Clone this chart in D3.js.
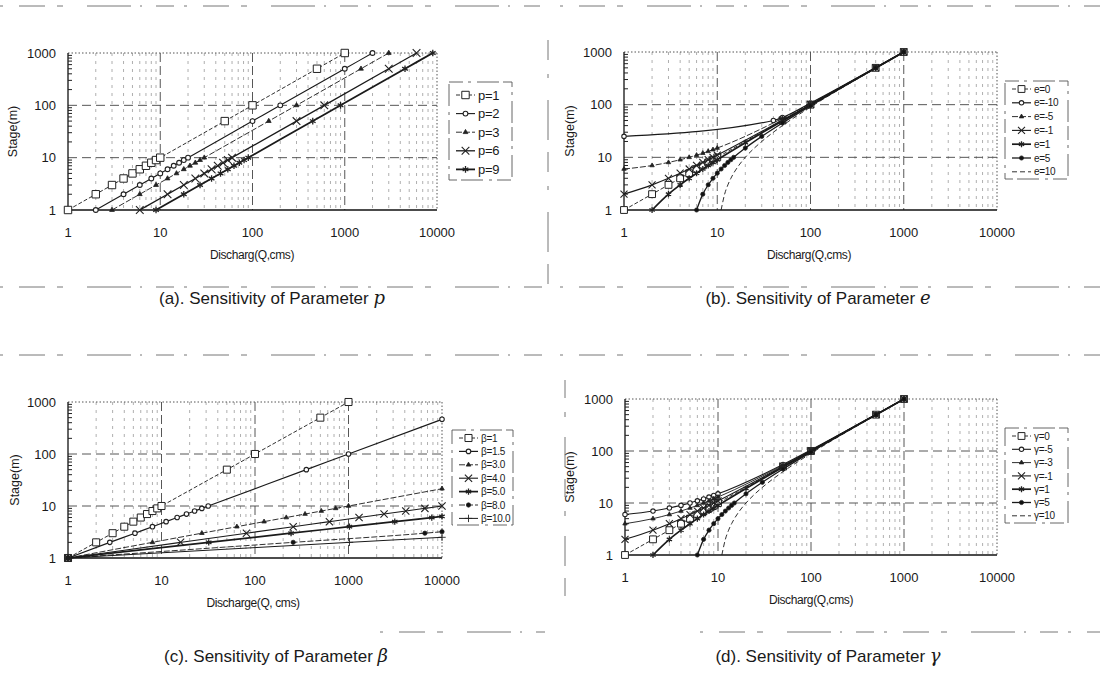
<!DOCTYPE html>
<html>
<head>
<meta charset="utf-8">
<script src="https://cdn.jsdelivr.net/npm/d3@7"></script>
<style>
body { margin: 0; background: #fff; }
text { font-family: "Liberation Sans", Arial, sans-serif; fill: #1a1a1a; }
</style>
</head>
<body>
<svg id="fig" width="1100" height="687"></svg>
<script>
// ---- data ----
var qTicks = [1, 10, 100, 1000, 10000];
var hTicks = [1, 10, 100, 1000];

// (a) parameter p
var pLabels = ["p=1", "p=2", "p=3", "p=6", "p=9"];
var pStage  = [1, 2, 3, 4, 5, 6, 7, 8, 9, 10, 50, 100, 500, 1000];
var pQ1 = [1, 2, 3, 4, 5, 6, 7, 8, 9, 10, 50, 100, 500, 1000];
var pQ2 = [2, 4, 6, 8, 10, 12, 14, 16, 18, 20, 100, 200, 1000, 2000];
var pQ3 = [3, 6, 9, 12, 15, 18, 21, 24, 27, 30, 150, 300, 1500, 3000];
var pQ6 = [6, 12, 18, 24, 30, 36, 42, 48, 54, 60, 300, 600, 3000, 6000];
var pQ9 = [9, 18, 27, 36, 45, 54, 63, 72, 81, 90, 450, 900, 4500, 9000];

// (b) parameter e
var eLabels = ["e=0", "e=-10", "e=-5", "e=-1", "e=1", "e=5", "e=10"];
var eQ0  = [1, 2, 3, 4, 5, 6, 7, 8, 9, 10, 50, 100, 500, 1000];
var eH0  = [1, 2, 3, 4, 5, 6, 7, 8, 9, 10, 50, 100, 500, 1000];
var eQm10 = [1, 40, 50, 100, 500, 1000];
var eHm10 = [25, 50, 57, 107, 507, 1010];
var eHm5 = [6, 7, 8, 9, 10, 11, 12, 13, 14, 15, 55, 105, 505, 1005];
var eHm1 = [2, 3, 4, 5, 6, 7, 8, 9, 10, 11, 51, 101, 501, 1001];
var eQ1  = [2, 3, 4, 5, 6, 7, 8, 9, 10, 20, 50, 100, 500, 1000];
var eH1  = [1, 2, 3, 4, 5, 6, 7, 8, 9, 19, 49, 99, 499, 999];
var eQ5  = [6, 7, 8, 9, 10, 11, 12, 13, 14, 15, 20, 30, 50, 100, 500, 1000];
var eH5  = [1, 2, 3, 4, 5, 6, 7, 8, 9, 10, 15, 25, 45, 95, 495, 995];
var eQ10 = [11, 12, 13, 14, 15, 17, 20, 25, 30, 40, 50, 100, 500, 1000];
var eH10 = [1, 2, 3, 4, 5, 7, 10, 15, 20, 30, 40, 90, 490, 990];

// (c) parameter beta
var bLabels = ["\u03b2=1", "\u03b2=1.5", "\u03b2=3.0", "\u03b2=4.0", "\u03b2=5.0", "\u03b2=8.0", "\u03b2=10.0"];
var bQ1  = [1, 2, 3, 4, 5, 6, 7, 8, 9, 10, 50, 100, 500, 1000];
var bH1  = [1, 2, 3, 4, 5, 6, 7, 8, 9, 10, 50, 100, 500, 1000];
var bQ15 = [1, 2.8, 5.2, 8, 11.2, 14.7, 18.5, 22.6, 27, 31.6, 354, 1000, 10000];
var bH15 = [1, 2, 3, 4, 5, 6, 7, 8, 9, 10, 50, 100, 464];
var bQ3  = [1, 8, 27, 64, 125, 216, 343, 512, 729, 1000, 10000];
var bH3  = [1, 2, 3, 4, 5, 6, 7, 8, 9, 10, 21.5];
var bQ4  = [1, 16, 81, 256, 625, 1296, 2401, 4096, 6561, 10000];
var bH4  = [1, 2, 3, 4, 5, 6, 7, 8, 9, 10];
var bQ5  = [1, 32, 243, 1024, 3125, 7776, 10000];
var bH5  = [1, 2, 3, 4, 5, 6, 6.3];
var bQ8  = [1, 256, 6561, 10000];
var bH8  = [1, 2, 3, 3.2];
var bQ10 = [1, 1024, 10000];
var bH10 = [1, 2, 2.5];

// (d) parameter gamma
var gLabels = ["\u03b3=0", "\u03b3=-5", "\u03b3=-3", "\u03b3=-1", "\u03b3=1", "\u03b3=5", "\u03b3=10"];
var gHm5 = [6, 7, 8, 9, 10, 11, 12, 13, 14, 15, 55, 105, 505, 1005];
var gHm3 = [4, 5, 6, 7, 8, 9, 10, 11, 12, 13, 53, 103, 503, 1003];

function zip(qs, hs) { return qs.map(function(q, i) { return [q, hs[i]]; }); }

// ---- marker / line styles ----
var styles = {
  square:   { sym: d3.symbolSquare2,  size: 70, fill: "#fff", sw: 1 },
  circle:   { sym: d3.symbolCircle,   size: 18, fill: "#fff", sw: 1.1 },
  triangle: { sym: d3.symbolTriangle, size: 10, fill: "#222", sw: 0.8 },
  times:    { sym: d3.symbolTimes,    size: 40, fill: "none", sw: 1.1 },
  aster:    { sym: d3.symbolAsterisk, size: 30, fill: "none", sw: 1.3 },
  dot:      { sym: d3.symbolCircle,   size: 16, fill: "#111", sw: 0.8 },
  plus:     { sym: d3.symbolPlus,     size: 22, fill: "none", sw: 0.9 }
};

var svg = d3.select("#fig");

function drawMarker(g, type, px, py, scale) {
  var s = styles[type];
  g.append("path")
    .attr("d", d3.symbol().type(s.sym).size(s.size * (scale || 1))())
    .attr("transform", "translate(" + px + "," + py + ")")
    .attr("fill", s.fill)
    .attr("stroke", "#222")
    .attr("stroke-width", s.sw);
}

function drawPanel(cfg) {
  var x = d3.scaleLog().domain([1, 10000]).range([cfg.x0, cfg.x1]);
  var y = d3.scaleLog().domain([1, 1000]).range([cfg.yb, cfg.yt]);
  var g = svg.append("g");

  // minor vertical grid
  var minorQ = x.ticks().filter(function(d) { return qTicks.indexOf(d) < 0; });
  g.selectAll(".minv").data(minorQ).enter().append("line")
    .attr("x1", function(d) { return x(d); }).attr("x2", function(d) { return x(d); })
    .attr("y1", cfg.yt).attr("y2", cfg.yb)
    .attr("stroke", "#9a9a9a").attr("stroke-width", 0.8)
    .attr("stroke-dasharray", "3,5");

  // major grid
  g.selectAll(".majv").data(qTicks.slice(1, 4)).enter().append("line")
    .attr("x1", function(d) { return x(d); }).attr("x2", function(d) { return x(d); })
    .attr("y1", cfg.yt).attr("y2", cfg.yb)
    .attr("stroke", "#444").attr("stroke-width", 0.9)
    .attr("stroke-dasharray", "9,4");
  g.selectAll(".majh").data(hTicks.slice(1, 3)).enter().append("line")
    .attr("x1", cfg.x0).attr("x2", cfg.x1)
    .attr("y1", function(d) { return y(d); }).attr("y2", function(d) { return y(d); })
    .attr("stroke", "#444").attr("stroke-width", 0.9)
    .attr("stroke-dasharray", "9,5");

  // frame: dotted top/right, solid left/bottom
  g.append("line").attr("x1", cfg.x0).attr("x2", cfg.x1).attr("y1", cfg.yt).attr("y2", cfg.yt)
    .attr("stroke", "#555").attr("stroke-dasharray", "1.5,2");
  g.append("line").attr("x1", cfg.x1).attr("x2", cfg.x1).attr("y1", cfg.yt).attr("y2", cfg.yb)
    .attr("stroke", "#555").attr("stroke-dasharray", "1.5,2");
  g.append("line").attr("x1", cfg.x0).attr("x2", cfg.x0).attr("y1", cfg.yt).attr("y2", cfg.yb)
    .attr("stroke", "#111").attr("stroke-width", 1.3);
  g.append("line").attr("x1", cfg.x0).attr("x2", cfg.x1).attr("y1", cfg.yb).attr("y2", cfg.yb)
    .attr("stroke", "#111").attr("stroke-width", 1.3);

  // inner minor ticks on the stage axis
  var minorH = y.ticks().filter(function(d) { return hTicks.indexOf(d) < 0; });
  g.selectAll(".ht").data(minorH).enter().append("line")
    .attr("x1", cfg.x0).attr("x2", cfg.x0 + 4)
    .attr("y1", function(d) { return y(d); }).attr("y2", function(d) { return y(d); })
    .attr("stroke", "#222");

  // tick labels
  g.selectAll(".xl").data(qTicks).enter().append("text")
    .attr("x", function(d) { return x(d); }).attr("y", cfg.yb + 27)
    .attr("text-anchor", "middle").style("font-size", "13px")
    .text(function(d) { return d; });
  g.selectAll(".yl").data(hTicks).enter().append("text")
    .attr("x", cfg.x0 - 12).attr("y", function(d) { return y(d) + 4.5; })
    .attr("text-anchor", "end").style("font-size", "13px")
    .text(function(d) { return d; });

  // axis titles
  g.append("text").attr("x", cfg.xtX).attr("y", cfg.yb + 49)
    .attr("text-anchor", "middle").style("font-size", "12px").style("letter-spacing", "-0.4px")
    .text(cfg.xTitle);
  g.append("text").attr("transform", "translate(" + cfg.ytX + "," + ((cfg.yt + cfg.yb) / 2) + ") rotate(-90)")
    .attr("text-anchor", "middle").style("font-size", "12.5px")
    .text("Stage(m)");

  // series
  var line = d3.line()
    .x(function(d) { return x(d[0]); })
    .y(function(d) { return y(d[1]); })
    .curve(d3.curveMonotoneX);
  cfg.series.forEach(function(s) {
    g.append("path").attr("d", line(s.pts))
      .attr("fill", "none").attr("stroke", "#1a1a1a")
      .attr("stroke-width", s.w).attr("stroke-dasharray", s.dash || null);
    if (s.marker) {
      s.pts.forEach(function(p) {
        drawMarker(g, s.marker, x(p[0]), y(p[1]), cfg.ms);
      });
    }
  });

  // legend
  var lg = svg.append("g");
  lg.append("rect").attr("x", cfg.lx).attr("y", cfg.ly).attr("width", cfg.lw).attr("height", cfg.lh)
    .attr("fill", "none").attr("stroke", "#555").attr("stroke-width", 0.9)
    .attr("stroke-dasharray", "14,5,3,6,22,4");
  cfg.series.forEach(function(s, i) {
    var yy = cfg.ly0 + i * cfg.lstep;
    lg.append("line").attr("x1", cfg.lx + 7).attr("x2", cfg.lx + 26).attr("y1", yy).attr("y2", yy)
      .attr("stroke", "#1a1a1a").attr("stroke-width", s.w).attr("stroke-dasharray", s.dash || null);
    if (s.marker) drawMarker(lg, s.marker, cfg.lx + 16.5, yy, cfg.ms);
    lg.append("text").attr("x", cfg.lx + 29).attr("y", yy + cfg.lfs * 0.36)
      .style("font-size", cfg.lfs + "px").style("letter-spacing", "-0.3px")
      .text(s.label);
  });

  // caption
  var cap = svg.append("text").attr("x", cfg.capX).attr("y", cfg.capY)
    .attr("text-anchor", "middle").style("font-size", "17px");
  cap.append("tspan").text(cfg.capText);
  cap.append("tspan").style("font-family", "'DejaVu Serif', 'Liberation Serif', serif")
    .style("font-style", "italic").style("font-size", "18px").text(cfg.capSym);
}

// ---- panels ----
drawPanel({
  x0: 68, x1: 437, yt: 53, yb: 210, ytX: 17, xtX: 252, xTitle: "Discharg(Q,cms)", ms: 1,
  lx: 449, ly: 82, lw: 63, lh: 98, ly0: 95, lstep: 18.6, lfs: 13,
  capX: 272, capY: 304, capText: "(a). Sensitivity of Parameter ", capSym: "p",
  series: [
    { label: pLabels[0], pts: zip(pQ1, pStage), marker: "square", w: 0.9, dash: "4,2" },
    { label: pLabels[1], pts: zip(pQ2, pStage), marker: "circle", w: 1.1 },
    { label: pLabels[2], pts: zip(pQ3, pStage), marker: "triangle", w: 0.9, dash: "6,2" },
    { label: pLabels[3], pts: zip(pQ6, pStage), marker: "times", w: 1.3 },
    { label: pLabels[4], pts: zip(pQ9, pStage), marker: "aster", w: 1.8 }
  ]
});

drawPanel({
  x0: 624, x1: 997, yt: 52, yb: 210, ytX: 574, xtX: 809, xTitle: "Discharg(Q,cms)", ms: 0.85,
  lx: 1005, ly: 81, lw: 63, lh: 98, ly0: 89, lstep: 13.8, lfs: 10,
  capX: 818, capY: 304, capText: "(b). Sensitivity of Parameter ", capSym: "e",
  series: [
    { label: eLabels[0], pts: zip(eQ0, eH0), marker: "square", w: 0.9, dash: "4,2" },
    { label: eLabels[1], pts: zip(eQm10, eHm10), marker: "circle", w: 1.2 },
    { label: eLabels[2], pts: zip(eQ0, eHm5), marker: "triangle", w: 0.9, dash: "6,2" },
    { label: eLabels[3], pts: zip(eQ0, eHm1), marker: "times", w: 1.1 },
    { label: eLabels[4], pts: zip(eQ1, eH1), marker: "aster", w: 1.7 },
    { label: eLabels[5], pts: zip(eQ5, eH5), marker: "dot", w: 1.3 },
    { label: eLabels[6], pts: zip(eQ10, eH10), marker: null, w: 0.9, dash: "5,3" }
  ]
});

drawPanel({
  x0: 68, x1: 442, yt: 402, yb: 558, ytX: 19, xtX: 253, xTitle: "Discharge(Q, cms)", ms: 0.9,
  lx: 452, ly: 430, lw: 61, lh: 95, ly0: 438, lstep: 13.4, lfs: 10,
  capX: 276, capY: 662, capText: "(c). Sensitivity of Parameter ", capSym: "\u03b2",
  series: [
    { label: bLabels[0], pts: zip(bQ1, bH1), marker: "square", w: 0.9, dash: "4,2" },
    { label: bLabels[1], pts: zip(bQ15, bH15), marker: "circle", w: 1.2 },
    { label: bLabels[2], pts: zip(bQ3, bH3), marker: "triangle", w: 0.9, dash: "6,2" },
    { label: bLabels[3], pts: zip(bQ4, bH4), marker: "times", w: 1.1 },
    { label: bLabels[4], pts: zip(bQ5, bH5), marker: "aster", w: 1.7 },
    { label: bLabels[5], pts: zip(bQ8, bH8), marker: "dot", w: 0.9, dash: "6,2" },
    { label: bLabels[6], pts: zip(bQ10, bH10), marker: "plus", w: 1 }
  ]
});

drawPanel({
  x0: 625, x1: 997, yt: 399, yb: 555, ytX: 574, xtX: 811, xTitle: "Discharg(Q,cms)", ms: 0.85,
  lx: 1005, ly: 428, lw: 63, lh: 95, ly0: 436, lstep: 13.3, lfs: 10,
  capX: 828, capY: 662, capText: "(d). Sensitivity of Parameter ", capSym: "\u03b3",
  series: [
    { label: gLabels[0], pts: zip(eQ0, eH0), marker: "square", w: 0.9, dash: "4,2" },
    { label: gLabels[1], pts: zip(eQ0, gHm5), marker: "circle", w: 1.1 },
    { label: gLabels[2], pts: zip(eQ0, gHm3), marker: "triangle", w: 0.9 },
    { label: gLabels[3], pts: zip(eQ0, eHm1), marker: "times", w: 1.1 },
    { label: gLabels[4], pts: zip(eQ1, eH1), marker: "aster", w: 1.7 },
    { label: gLabels[5], pts: zip(eQ5, eH5), marker: "dot", w: 1.3 },
    { label: gLabels[6], pts: zip(eQ10, eH10), marker: null, w: 0.9, dash: "5,3" }
  ]
});

// faint scan rules framing the panels
var rules = svg.append("g").attr("stroke", "#777").attr("stroke-width", 1);
[[0, 540, 6], [560, 1100, 6], [0, 545, 287], [560, 1100, 287],
 [0, 545, 355], [560, 1100, 355], [380, 545, 632], [700, 1100, 632]].forEach(function(r) {
  rules.append("line").attr("x1", r[0]).attr("x2", r[1]).attr("y1", r[2]).attr("y2", r[2])
    .attr("stroke-dasharray", "3,16,26,12,6,24,44,9,2,14,18,10");
});
rules.append("line").attr("x1", 548).attr("x2", 548).attr("y1", 40).attr("y2", 285)
  .attr("stroke-dasharray", "20,14,4,22,40,12");
rules.append("line").attr("x1", 565).attr("x2", 565).attr("y1", 380).attr("y2", 600)
  .attr("stroke-dasharray", "18,14,5,20,30,12");
</script>
</body>
</html>
